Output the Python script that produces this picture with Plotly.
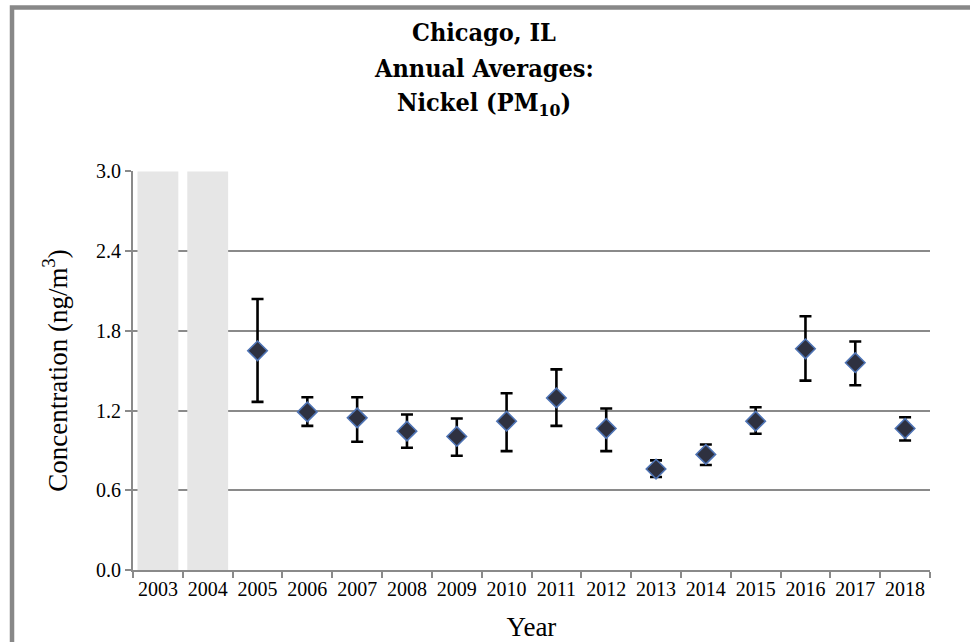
import plotly.graph_objects as go

# Category axis: every year shown on the chart
years = ["2003", "2004", "2005", "2006", "2007", "2008", "2009", "2010",
         "2011", "2012", "2013", "2014", "2015", "2016", "2017", "2018"]

# Years without sampling data (shaded columns)
no_data_years = ["2003", "2004"]
no_data_height = [3.0, 3.0]

# Annual average nickel concentrations (ng/m3) with 95% confidence bounds
data_years = ["2005", "2006", "2007", "2008", "2009", "2010", "2011",
              "2012", "2013", "2014", "2015", "2016", "2017", "2018"]
annual_mean = [1.65, 1.19, 1.145, 1.045, 1.005, 1.12, 1.295,
               1.065, 0.76, 0.87, 1.12, 1.665, 1.56, 1.065]
upper_bound = [2.04, 1.30, 1.30, 1.17, 1.14, 1.33, 1.51,
               1.215, 0.825, 0.945, 1.225, 1.91, 1.72, 1.15]
lower_bound = [1.265, 1.085, 0.965, 0.92, 0.86, 0.895, 1.085,
               0.895, 0.70, 0.79, 1.025, 1.425, 1.39, 0.975]

# Title lines
title_lines = ["Chicago, IL", "Annual Averages:", "Nickel (PM<sub>10</sub>)"]

err_plus = [u - m for u, m in zip(upper_bound, annual_mean)]
err_minus = [m - l for m, l in zip(annual_mean, lower_bound)]

SERIF = "Liberation Serif"
TITLE_FONT = "DejaVu Serif Condensed, DejaVu Serif, serif"
GRID = "#8a8a8a"

fig = go.Figure()

fig.add_trace(go.Bar(
    x=no_data_years, y=no_data_height,
    marker=dict(color="#e6e6e6", line=dict(width=0)),
    width=0.82, showlegend=False, hoverinfo="skip",
))

fig.add_trace(go.Scatter(
    x=data_years, y=annual_mean, mode="markers",
    marker=dict(symbol="diamond", size=15, color="#2e3140",
                line=dict(color="#4f74b5", width=1.6)),
    error_y=dict(type="data", symmetric=False, array=err_plus,
                 arrayminus=err_minus, color="black", thickness=2.6, width=6),
    showlegend=False,
))

fig.update_layout(
    width=970, height=642,
    margin=dict(l=133, r=40, t=171, b=72),
    paper_bgcolor="white", plot_bgcolor="white",
    font=dict(family=SERIF, color="black"),
    xaxis=dict(
        type="category", categoryorder="array", categoryarray=years,
        range=[-0.5, len(years) - 0.5], tickangle=0, automargin=False,
        tickson="boundaries", ticks="outside", ticklen=6, tickwidth=2,
        tickcolor=GRID, showline=True, linecolor=GRID, linewidth=2,
        showgrid=False,
        tickfont=dict(family=SERIF, size=20, color="black"),
        title=dict(text="Year", font=dict(family=SERIF, size=27), standoff=18),
    ),
    yaxis=dict(
        range=[0, 3.003], dtick=0.6, tick0=0, tickformat=".1f",
        automargin=False,
        ticks="outside", ticklen=6, tickwidth=2, tickcolor=GRID,
        showline=True, linecolor=GRID, linewidth=2,
        showgrid=True, gridcolor=GRID, gridwidth=2, zeroline=False,
        tickfont=dict(family=SERIF, size=20, color="black"),
        title=dict(text="Concentration (ng/m<sup>3</sup>)",
                   font=dict(family=SERIF, size=27), standoff=21),
    ),
    bargap=0.18,
)

# Three-line chart title, one annotation per line for even spacing
for i, line in enumerate(title_lines):
    fig.add_annotation(
        text="<b>" + line + "</b>",
        xref="paper", yref="paper", x=0.44, y=1.3459 - i * 0.0885,
        xanchor="center", yanchor="middle", showarrow=False,
        font=dict(family=TITLE_FONT, size=25, color="black"),
    )

# Gray chart frame (open to the right and bottom edges of the page)
fig.add_shape(type="rect", xref="paper", yref="paper",
              x0=-0.1518, x1=1.2, y0=-0.4, y1=1.4098,
              line=dict(color="#888888", width=4.5), fillcolor="rgba(0,0,0,0)",
              layer="below")

fig.write_html("out.html")
